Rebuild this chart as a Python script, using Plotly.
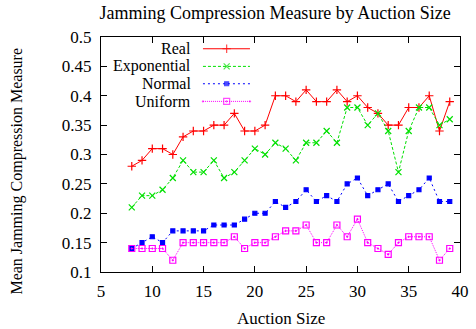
import plotly.graph_objects as go

# Auction sizes and mean jamming compression measure per distribution
auction_size = list(range(8, 40))
real = [0.28, 0.29, 0.31, 0.31, 0.30, 0.33, 0.34, 0.34, 0.35, 0.35, 0.37, 0.34,
        0.34, 0.35, 0.40, 0.40, 0.39, 0.41, 0.39, 0.39, 0.41, 0.39, 0.40, 0.38,
        0.37, 0.35, 0.35, 0.38, 0.38, 0.40, 0.34, 0.39]
exponential = [0.21, 0.23, 0.23, 0.24, 0.26, 0.29, 0.27, 0.27, 0.29, 0.26, 0.27, 0.29,
               0.31, 0.30, 0.32, 0.31, 0.29, 0.32, 0.32, 0.34, 0.32, 0.38, 0.38, 0.35,
               0.37, 0.34, 0.27, 0.34, 0.38, 0.38, 0.35, 0.36]
normal = [0.14, 0.15, 0.16, 0.15, 0.17, 0.17, 0.17, 0.17, 0.18, 0.18, 0.18, 0.19,
          0.20, 0.20, 0.22, 0.21, 0.22, 0.24, 0.22, 0.23, 0.22, 0.25, 0.26, 0.23,
          0.24, 0.25, 0.22, 0.23, 0.24, 0.26, 0.22, 0.22]
uniform = [0.14, 0.14, 0.14, 0.14, 0.12, 0.15, 0.15, 0.15, 0.15, 0.15, 0.16, 0.14,
           0.15, 0.15, 0.16, 0.17, 0.17, 0.18, 0.15, 0.15, 0.18, 0.16, 0.19, 0.15,
           0.14, 0.13, 0.15, 0.16, 0.16, 0.16, 0.12, 0.14]

series_names = ["Real", "Exponential", "Normal", "Uniform"]
x_ticks = [5, 10, 15, 20, 25, 30, 35, 40]
y_ticks = [0.1, 0.15, 0.2, 0.25, 0.3, 0.35, 0.4, 0.45, 0.5]

FONT = "Liberation Serif, Times New Roman, serif"

styles = [
    dict(color="#ff0000", dash="solid", symbol="cross-thin-open", size=6),
    dict(color="#00e000", dash="3px,2px", symbol="x-thin-open", size=6),
    dict(color="#0000ff", dash="2px,3px", symbol="square", size=4),
    dict(color="#ff00ff", dash="1px,1px", symbol="square-open-dot", size=6),
]

fig = go.Figure()
for name, values, st in zip(series_names, [real, exponential, normal, uniform], styles):
    fig.add_trace(go.Scatter(
        x=auction_size, y=values, name=name, mode="lines+markers",
        line=dict(color=st["color"], width=1, dash=st["dash"]),
        marker=dict(symbol=st["symbol"], size=st["size"], color=st["color"],
                    line=dict(color=st["color"], width=1.2)),
        showlegend=False,
    ))

# Key in the upper-left corner: label on the left, line sample on the right
key_rows = [0.950, 0.875, 0.801, 0.726]
for name, st, ky in zip(series_names, styles, key_rows):
    fig.add_trace(go.Scatter(
        x=[0.284, 0.350, 0.415], y=[ky, ky, ky], xaxis="x2", yaxis="y2",
        mode="lines+markers",
        line=dict(color=st["color"], width=1, dash=st["dash"]),
        marker=dict(symbol=st["symbol"], size=[0, st["size"], 0], color=st["color"],
                    line=dict(color=st["color"], width=1.2)),
        showlegend=False, hoverinfo="skip",
    ))
    fig.add_annotation(x=0.256, y=ky, xref="x2", yref="y2", text=name,
                       showarrow=False, xanchor="right", yanchor="middle",
                       font=dict(family=FONT, size=16, color="black"))

axis_common = dict(
    showgrid=False, zeroline=False, showline=True, linecolor="black", linewidth=1,
    mirror="ticks", ticks="inside", ticklen=6, tickcolor="black", tickwidth=1,
    tickfont=dict(family=FONT, size=17, color="black"), automargin=False,
)

fig.update_layout(
    width=476, height=329,
    margin=dict(l=101, r=16, t=37, b=57),
    plot_bgcolor="white", paper_bgcolor="white",
    title=dict(text="Jamming Compression Measure by Auction Size",
               x=0.578, xanchor="center", y=0.962, yanchor="middle",
               font=dict(family=FONT, size=18, color="black")),
    xaxis=dict(range=[5, 40], tickvals=x_ticks, ticklabelstandoff=4, **axis_common),
    yaxis=dict(range=[0.1, 0.5], tickvals=y_ticks, ticklabelstandoff=5,
               ticktext=[f"{v:g}" for v in y_ticks], **axis_common),
    xaxis2=dict(overlaying="x", range=[0, 1], visible=False),
    yaxis2=dict(overlaying="y", range=[0, 1], visible=False),
)

# Axis titles
fig.add_annotation(text="Auction Size", xref="paper", yref="paper",
                   x=0.5, y=-0.196, showarrow=False,
                   xanchor="center", yanchor="middle",
                   font=dict(family=FONT, size=17, color="black"))
fig.add_annotation(text="Mean Jamming Compression Measure", xref="paper", yref="paper",
                   x=-0.235, y=0.43, textangle=-90, showarrow=False,
                   xanchor="center", yanchor="middle",
                   font=dict(family=FONT, size=16, color="black"))

fig.write_html("out.html")
